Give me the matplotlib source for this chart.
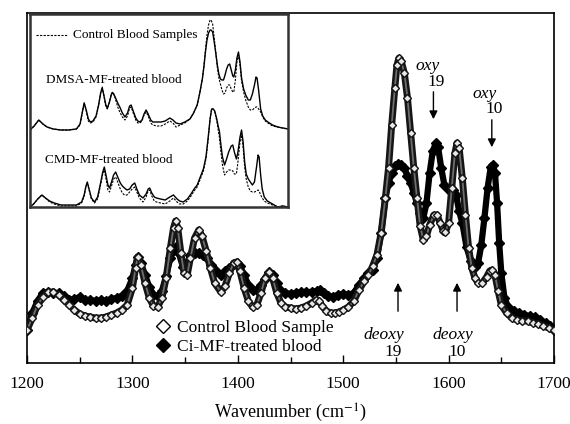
import matplotlib
matplotlib.use("Agg")
import matplotlib.pyplot as plt
from matplotlib.lines import Line2D

plt.rcParams['font.family'] = ['Liberation Serif', 'DejaVu Serif']
plt.rcParams['mathtext.fontset'] = 'stix'

# ---------------- main spectra (Raman intensity, a.u.) ----------------
ctrl_wn = [1200, 1205, 1210, 1215, 1220, 1225, 1230, 1235, 1240, 1245, 1250, 1255, 1260, 1265, 1270,
           1275, 1280, 1285, 1290, 1295, 1300, 1303, 1305, 1308, 1312, 1316, 1320, 1324, 1328, 1332,
           1336, 1339, 1341, 1343, 1346, 1349, 1352, 1355, 1359, 1363, 1366, 1370, 1374, 1378, 1384,
           1388, 1392, 1396, 1399, 1402, 1406, 1410, 1414, 1418, 1422, 1426, 1430, 1433, 1437, 1441,
           1445, 1450, 1455, 1460, 1465, 1470, 1474, 1477, 1480, 1484, 1488, 1492, 1496, 1500, 1505,
           1510, 1515, 1520, 1524, 1528, 1532, 1536, 1540, 1543, 1546, 1549, 1551, 1553, 1555, 1558,
           1561, 1564, 1567, 1570, 1573, 1576, 1579, 1582, 1586, 1589, 1592, 1595, 1597, 1600, 1603,
           1606, 1608, 1610, 1613, 1616, 1619, 1622, 1625, 1628, 1632, 1636, 1639, 1641, 1644, 1647,
           1650, 1655, 1660, 1665, 1670, 1675, 1680, 1685, 1690, 1695, 1700]
ctrl_int = [33, 45, 58, 66, 71, 71, 68, 63, 58, 53, 49, 47, 46, 45, 45,
            46, 48, 50, 53, 58, 75, 95, 106, 98, 80, 65, 57, 56, 65, 85,
            115, 135, 142, 135, 110, 90, 88, 105, 125, 133, 127, 112, 95, 80, 71,
            77, 90, 100, 101, 92, 75, 62, 56, 58, 70, 85, 91, 85, 70, 60,
            56, 55, 54, 55, 57, 60, 63, 62, 57, 52, 50, 50, 51, 53, 56,
            62, 73, 82, 88, 97, 108, 130, 165, 195, 238, 275, 298, 305, 302, 290,
            265, 230, 195, 165, 137, 123, 127, 138, 148, 148, 140, 132, 131, 140, 175,
            210, 220, 215, 185, 148, 115, 95, 85, 80, 80, 86, 92, 93, 88, 72,
            58, 50, 45, 43, 42, 42, 40, 39, 37, 35, 33]

ci_wn = [1200, 1205, 1210, 1215, 1220, 1225, 1230, 1235, 1240, 1245, 1250, 1255, 1260, 1265, 1270,
         1275, 1280, 1285, 1290, 1295, 1300, 1303, 1305, 1308, 1312, 1316, 1320, 1324, 1328, 1332,
         1336, 1339, 1341, 1344, 1348, 1351, 1355, 1359, 1363, 1367, 1371, 1375, 1379, 1384, 1388,
         1392, 1396, 1399, 1402, 1406, 1410, 1414, 1418, 1422, 1426, 1430, 1433, 1437, 1441, 1445,
         1450, 1455, 1460, 1465, 1470, 1475, 1478, 1482, 1486, 1490, 1495, 1500, 1505, 1510, 1515,
         1520, 1524, 1528, 1532, 1536, 1540, 1543, 1546, 1549, 1552, 1555, 1558, 1561, 1564, 1567,
         1570, 1573, 1576, 1579, 1582, 1585, 1588, 1590, 1593, 1596, 1600, 1604, 1607, 1610, 1613,
         1617, 1621, 1625, 1628, 1631, 1634, 1637, 1640, 1642, 1644, 1646, 1648, 1650, 1653, 1657,
         1662, 1667, 1672, 1677, 1682, 1687, 1692, 1696, 1700]
ci_int = [33, 50, 62, 70, 71, 70, 70, 67, 63, 64, 66, 63, 63, 62, 63,
          62, 64, 65, 67, 72, 85, 98, 106, 100, 88, 76, 68, 67, 72, 87,
          105, 113, 116, 110, 96, 98, 108, 110, 110, 108, 105, 98, 92, 88, 92,
          95, 99, 100, 97, 88, 78, 73, 73, 78, 84, 91, 88, 80, 72, 70,
          69, 70, 71, 71, 71, 72, 73, 70, 67, 66, 68, 69, 68, 70, 78,
          85, 90, 93, 105, 130, 165, 180, 190, 197, 199, 198, 195, 187, 180, 170,
          160, 150, 145, 160, 190, 212, 220, 216, 195, 178, 173, 173, 168, 152, 140,
          116, 102, 96, 100, 118, 145, 175, 196, 198, 190, 160, 120, 90, 65, 55,
          52, 50, 48, 47, 46, 43, 40, 37, 33]

# ---------------- inset spectra (offset-free, a.u.) ----------------
dmsa_wn = [1200, 1208, 1217, 1225, 1233, 1245, 1260, 1275, 1290, 1297, 1301, 1305, 1309, 1313, 1317,
           1322, 1328, 1333, 1337, 1340, 1343, 1347, 1350, 1354, 1358, 1361, 1365, 1370, 1374, 1379,
           1384, 1389, 1393, 1396, 1400, 1405, 1409, 1413, 1417, 1421, 1425, 1429, 1434, 1438, 1446,
           1454, 1462, 1471, 1477, 1483, 1491, 1500, 1510, 1517, 1524, 1529, 1534, 1537, 1540, 1543,
           1546, 1549, 1551, 1554, 1557, 1560, 1563, 1566, 1569, 1572, 1575, 1578, 1581, 1584, 1587,
           1590, 1593, 1595, 1598, 1601, 1604, 1607, 1610, 1614, 1618, 1623, 1627, 1631, 1635, 1638,
           1640, 1643, 1647, 1651, 1656, 1661, 1670, 1680, 1690, 1700]
dmsa_treated = [0, 4, 10, 6, 3, 1, 0, 0, 1, 6, 17, 27, 20, 11, 8,
                9, 14, 25, 37, 42, 35, 25, 22, 28, 36, 37, 33, 27, 23, 17,
                13, 17, 24, 25, 19, 12, 9, 8, 10, 16, 20, 16, 10, 8, 8,
                8, 9, 12, 10, 7, 6, 8, 11, 17, 25, 37, 51, 63, 78, 90,
                97, 100, 100, 98, 88, 77, 65, 56, 51, 50, 50, 55, 61, 65, 66,
                60, 54, 53, 60, 72, 78, 68, 52, 41, 35, 30, 30, 36, 45, 53,
                52, 40, 21, 14, 10, 8, 5, 3, 2, 1]
dmsa_control = [0, 4, 10, 6, 3, 1, 0, 0, 1, 5, 16, 27, 19, 9, 7,
                8, 13, 25, 38, 43, 35, 23, 21, 28, 37, 38, 32, 23, 18, 13,
                10, 14, 22, 23, 17, 10, 7, 7, 9, 15, 18, 14, 7, 5, 4,
                4, 6, 9, 7, 3, 5, 7, 11, 17, 25, 37, 51, 64, 80, 95,
                105, 110, 110, 106, 92, 78, 63, 52, 46, 40, 36, 37, 42, 45, 45,
                41, 38, 38, 50, 68, 75, 65, 49, 38, 30, 23, 20, 20, 22, 23,
                23, 21, 18, 13, 9, 7, 4, 3, 2, 1]

cmd_wn = [1200, 1207, 1215, 1223, 1230, 1238, 1247, 1260, 1275, 1290, 1300, 1305, 1308, 1311, 1315,
          1319, 1325, 1331, 1336, 1341, 1344, 1348, 1351, 1354, 1358, 1362, 1366, 1370, 1375, 1379,
          1383, 1388, 1393, 1398, 1403, 1407, 1412, 1419, 1425, 1429, 1432, 1436, 1441, 1445, 1453,
          1462, 1471, 1478, 1485, 1490, 1497, 1505, 1512, 1518, 1524, 1530, 1536, 1541, 1545, 1549,
          1552, 1555, 1558, 1562, 1565, 1567, 1570, 1573, 1577, 1581, 1585, 1590, 1593, 1596, 1600,
          1603, 1607, 1610, 1613, 1616, 1619, 1623, 1627, 1631, 1635, 1639, 1642, 1644, 1647, 1650,
          1654, 1660, 1670, 1680, 1690, 1700]
cmd_treated = [0, 3, 8, 12, 9, 6, 4, 2, 2, 2, 5, 12, 20, 25, 17,
               9, 5, 10, 22, 35, 40, 30, 22, 19, 25, 32, 35, 30, 24, 21,
               19, 17, 18, 22, 24, 18, 12, 9, 13, 18, 19, 14, 10, 9, 8,
               7, 10, 12, 8, 6, 5, 8, 13, 18, 22, 30, 38, 50, 68, 88,
               98, 98, 96, 88, 80, 76, 62, 50, 42, 48, 55, 61, 62, 55, 48,
               55, 70, 77, 65, 45, 33, 28, 25, 22, 25, 40, 52, 50, 32, 18,
               10, 6, 3, 0, 1, 0]
cmd_control = [0, 3, 8, 12, 9, 5, 3, 1, 1, 1, 4, 11, 19, 24, 16,
               8, 4, 8, 20, 33, 37, 26, 17, 15, 21, 28, 30, 25, 18, 14,
               12, 12, 15, 18, 20, 15, 9, 5, 10, 16, 17, 11, 6, 5, 4,
               3, 6, 9, 5, 3, 3, 6, 11, 16, 20, 28, 36, 48, 66, 88,
               98, 98, 95, 86, 76, 70, 55, 42, 32, 35, 37, 37, 36, 33, 33,
               45, 65, 72, 60, 40, 28, 20, 16, 15, 15, 16, 17, 16, 12, 9,
               6, 4, 2, 0, 1, 0]

x_ticks = [1200, 1300, 1400, 1500, 1600, 1700]
legend_labels = ["Control Blood Sample", "Ci-MF-treated blood"]
inset_labels = ["Control Blood Samples", "DMSA-MF-treated blood", "CMD-MF-treated blood"]
dmsa_offset = 77

W, H = 570, 424
fig = plt.figure(figsize=(W / 100, H / 100), dpi=100)


def fx(px):
    return px / W


def fy(py):
    return 1 - py / H


# ---------------- main axes ----------------
ax = fig.add_axes([fx(27), fy(363), fx(554) - fx(27), fy(13) - fy(363)])
# Ci-MF-treated: dense chain of filled diamonds
ax.plot(ci_wn, ci_int, color='black', lw=4.5, solid_joinstyle='round', zorder=2)
ax.plot(ci_wn, ci_int, ls='none', marker='D', ms=5, mfc='black', mec='black', zorder=2)
# control: dense chain of open diamonds
ax.plot(ctrl_wn, ctrl_int, color='#151515', lw=5.0, solid_joinstyle='round', zorder=3)
ax.plot(ctrl_wn, ctrl_int, color='#6e6e6e', lw=1.3, solid_joinstyle='round', zorder=3)
ax.plot(ctrl_wn, ctrl_int, ls='none', marker='D', ms=4.2, mfc='#e8e8e8', mec='#151515',
        mew=1.0, zorder=4)
ax.set_xlim(1200, 1700)
ax.set_ylim(0, 350)
ax.set_xticks(x_ticks)
ax.set_xticks(range(1250, 1700, 100), minor=True)
ax.tick_params(axis='x', which='major', direction='in', length=6, width=1,
               labelsize=12.5, pad=9, top=False)
ax.tick_params(axis='x', which='minor', direction='in', length=4, width=1, top=False)
ax.set_yticks([])
for s in ax.spines.values():
    s.set_linewidth(1.2)
ax.set_xlabel("Wavenumber (cm$^{-1}$)", fontsize=13, labelpad=7)

handles = [Line2D([], [], ls='none', marker='D', ms=7, mfc='white', mec='black', mew=1),
           Line2D([], [], ls='none', marker='D', ms=7, mfc='black', mec='black')]
ax.legend(handles, legend_labels, loc='lower left', bbox_to_anchor=(0.218, -0.012),
          frameon=False, fontsize=12.5, handlelength=1.0, handletextpad=0.35,
          labelspacing=0.15, borderpad=0.2)

# band assignments
ann_arrow = dict(arrowstyle='-|>', color='black', lw=1.0, mutation_scale=12)
ax.annotate('', xy=(1585.6, 241), xytext=(1585.6, 274), arrowprops=ann_arrow)
ax.text(1580.5, 297, 'oxy', style='italic', fontsize=12.5, ha='center', va='center')
ax.text(1588, 281, '19', fontsize=12.5, ha='center', va='center')
ax.annotate('', xy=(1641, 213), xytext=(1641, 246), arrowprops=ann_arrow)
ax.text(1634, 269, 'oxy', style='italic', fontsize=12.5, ha='center', va='center')
ax.text(1643, 254, '10', fontsize=12.5, ha='center', va='center')

ax.annotate('', xy=(1552, 83), xytext=(1552, 49), arrowprops=ann_arrow)
ax.text(1539, 28, 'deoxy', style='italic', fontsize=12.5, ha='center', va='center')
ax.text(1547, 11, '19', fontsize=12.5, ha='center', va='center')
ax.annotate('', xy=(1608, 83), xytext=(1608, 49), arrowprops=ann_arrow)
ax.text(1604, 28, 'deoxy', style='italic', fontsize=12.5, ha='center', va='center')
ax.text(1608, 11, '10', fontsize=12.5, ha='center', va='center')

# ---------------- inset ----------------
ax_in = fig.add_axes([fx(30), fy(207), fx(288) - fx(30), fy(14) - fy(207)])
ax_in.set_facecolor('white')
dash = (0, (2.0, 1.2))
ax_in.plot(dmsa_wn, [v + dmsa_offset for v in dmsa_control], color='black', lw=0.8, ls=dash)
ax_in.plot(dmsa_wn, [v + dmsa_offset for v in dmsa_treated], color='black', lw=1.0)
ax_in.plot(cmd_wn, cmd_control, color='black', lw=0.8, ls=dash)
ax_in.plot(cmd_wn, cmd_treated, color='black', lw=1.0)
ax_in.set_xlim(1200, 1700)
ax_in.set_ylim(0, 193)
ax_in.set_xticks([])
ax_in.set_yticks([])
for s in ax_in.spines.values():
    s.set_linewidth(1.8)
    s.set_color('#333333')


def ix(px):
    return (px - 30) / 258


def iy(py):
    return (207 - py) / 193


ax_in.plot([ix(36), ix(68)], [iy(35), iy(35)], transform=ax_in.transAxes,
           color='black', lw=0.8, ls=dash)
ax_in.text(ix(73), iy(35), inset_labels[0], transform=ax_in.transAxes,
           fontsize=9.5, ha='left', va='center')
ax_in.text(ix(46), iy(80), inset_labels[1], transform=ax_in.transAxes,
           fontsize=9.5, ha='left', va='center')
ax_in.text(ix(45), iy(160), inset_labels[2], transform=ax_in.transAxes,
           fontsize=9.5, ha='left', va='center')

fig.savefig("out.png", dpi=100, facecolor='white')
